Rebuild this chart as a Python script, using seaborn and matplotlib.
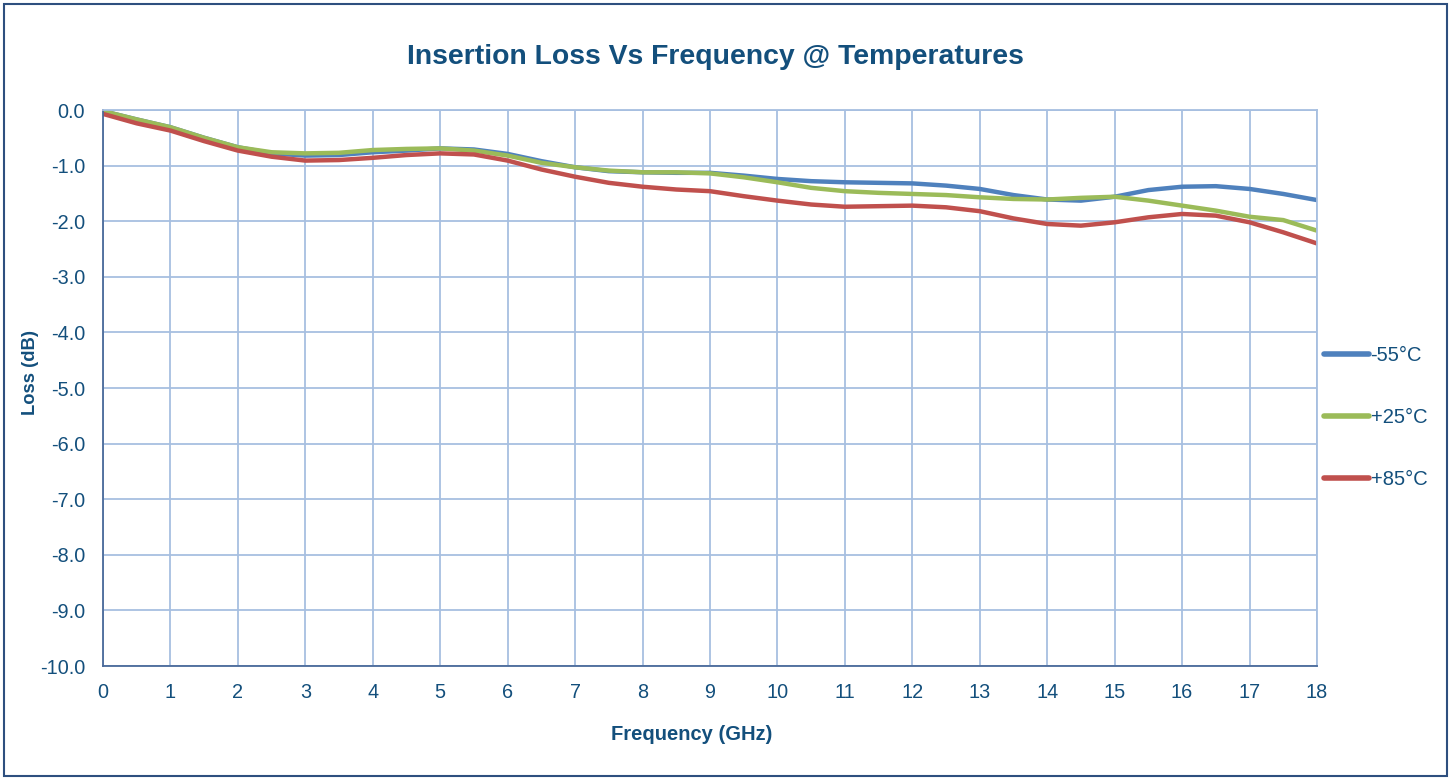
import matplotlib

matplotlib.use("Agg")

import matplotlib.pyplot as plt
import pandas as pd
import seaborn as sns
from matplotlib.patches import Rectangle

# values, every 0.5 GHz
freq_ghz = [0.0, 0.5, 1.0, 1.5, 2.0, 2.5, 3.0, 3.5, 4.0, 4.5, 5.0, 5.5, 6.0, 6.5,
            7.0, 7.5, 8.0, 8.5, 9.0, 9.5, 10.0, 10.5, 11.0, 11.5, 12.0, 12.5,
            13.0, 13.5, 14.0, 14.5, 15.0, 15.5, 16.0, 16.5, 17.0, 17.5, 18.0]
loss_m55 = [-0.02, -0.17, -0.31, -0.50, -0.67, -0.78, -0.82, -0.81, -0.76, -0.73,
            -0.69, -0.71, -0.79, -0.92, -1.03, -1.10, -1.12, -1.13, -1.13, -1.18,
            -1.24, -1.28, -1.30, -1.31, -1.32, -1.36, -1.42, -1.53, -1.61, -1.63,
            -1.56, -1.44, -1.38, -1.37, -1.42, -1.51, -1.62]
loss_p25 = [-0.02, -0.17, -0.31, -0.50, -0.67, -0.76, -0.78, -0.77, -0.72, -0.70,
            -0.69, -0.73, -0.82, -0.95, -1.03, -1.09, -1.12, -1.12, -1.14, -1.21,
            -1.30, -1.40, -1.46, -1.49, -1.51, -1.53, -1.57, -1.60, -1.61, -1.58,
            -1.56, -1.63, -1.72, -1.81, -1.92, -1.98, -2.17]
loss_p85 = [-0.07, -0.24, -0.37, -0.56, -0.73, -0.84, -0.91, -0.90, -0.86, -0.81,
            -0.78, -0.80, -0.91, -1.07, -1.20, -1.31, -1.38, -1.43, -1.46, -1.55,
            -1.63, -1.70, -1.74, -1.73, -1.72, -1.75, -1.82, -1.95, -2.05, -2.08,
            -2.02, -1.93, -1.87, -1.90, -2.02, -2.20, -2.40]
series_names = ["-55°C", "+25°C", "+85°C"]
series_colors = ["#4F81BD", "#9BBB59", "#C0504D"]
y_ticks = [-10, -9, -8, -7, -6, -5, -4, -3, -2, -1, 0]

text_color = "#134F7C"
grid_color = "#A7BFE0"
axis_color = "#4A6A9A"

df = pd.concat(
    [
        pd.DataFrame({"freq": freq_ghz, "loss": vals, "temp": name})
        for name, vals in zip(series_names, [loss_m55, loss_p25, loss_p85])
    ],
    ignore_index=True,
)

sns.set_theme(style="whitegrid")
plt.rcParams["font.family"] = ["Liberation Sans", "DejaVu Sans"]

fig = plt.figure(figsize=(14.52, 7.80), dpi=100)
ax = fig.add_axes([103 / 1452, 1 - 666 / 780, (1317 - 103) / 1452, (666 - 110) / 780])

sns.lineplot(
    data=df, x="freq", y="loss", hue="temp", hue_order=series_names,
    palette=series_colors, linewidth=3.2, ax=ax,
)

ax.set_xlim(0, 18)
ax.set_ylim(-10, 0)
ax.set_xticks(range(0, 19))
ax.set_yticks(y_ticks)
ax.set_yticklabels([f"{v:.1f}" for v in y_ticks])
ax.set_facecolor("white")
ax.grid(True, color=grid_color, linewidth=1.3)
ax.tick_params(axis="both", length=0, labelsize=14.3, labelcolor=text_color)
ax.tick_params(axis="y", pad=13)
ax.tick_params(axis="x", pad=12)
for side in ["left", "bottom"]:
    ax.spines[side].set_color(axis_color)
    ax.spines[side].set_linewidth(1.3)
for side in ["top", "right"]:
    ax.spines[side].set_color(grid_color)
    ax.spines[side].set_linewidth(1.3)

ax.set_xlabel("Frequency (GHz)", fontsize=14.5, fontweight="bold", color=text_color)
ax.xaxis.set_label_coords((692 - 103) / 1214, -(725 - 666) / 556)
ax.set_ylabel("Loss (dB)", fontsize=13.2, fontweight="bold", color=text_color)
ax.yaxis.set_label_coords(-(103 - 39) / 1214, (666 - 373) / 556)
fig.text(715 / 1452, 1 - 57 / 780, "Insertion Loss Vs Frequency @ Temperatures",
         ha="center", va="center", fontsize=20.4, fontweight="bold", color=text_color)

leg = ax.legend(
    loc="center left", bbox_to_anchor=(1.006, 0.447), frameon=False,
    fontsize=14.5, handlelength=2.2, handletextpad=0.1, labelspacing=2.15,
    borderpad=0, borderaxespad=0, title=None,
)
for txt in leg.get_texts():
    txt.set_color(text_color)
for line in leg.get_lines():
    line.set_linewidth(4)

fig.patches.append(Rectangle((4 / 1452, 4 / 780), 1443 / 1452, 772 / 780,
                             transform=fig.transFigure, fill=False,
                             edgecolor="#2E4F7F", linewidth=1.5))

fig.savefig("out.png", dpi=100, facecolor="white")
